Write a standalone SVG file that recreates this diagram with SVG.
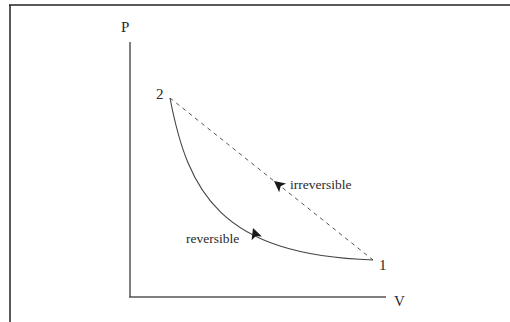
<svg xmlns="http://www.w3.org/2000/svg" width="510" height="322" viewBox="0 0 510 322">
<style>
.t{font-family:"Liberation Serif","Times New Roman",serif;fill:#2a2a2a;}
.lbl{font-size:13.5px;}
.ax{font-size:15px;}
.axis{stroke:#555;stroke-width:1.5;fill:none;}
.path{stroke:#444;stroke-width:1.1;fill:none;}
.dash{stroke:#555;stroke-width:1;fill:none;stroke-dasharray:4,4;}
</style>
<defs>
<path id="ah" d="M0,0 L-11,-5.5 L-8.5,0 L-11,5.5 Z" fill="#1a1a1a"/>
</defs>
<rect x="0" y="0" width="510" height="322" fill="#fff"/>
<g id="frame">
<line x1="9" y1="5" x2="510" y2="5" stroke="#222" stroke-width="1.5"/>
<line x1="10" y1="5" x2="10" y2="322" stroke="#222" stroke-width="1.5"/>
</g>
<g id="axes">
<line class="axis" x1="130" y1="42" x2="130" y2="297"/>
<line class="axis" x1="129" y1="297" x2="386" y2="297"/>
<text class="t ax" x="121" y="32">P</text>
<text class="t ax" x="394" y="306">V</text>
</g>
<g id="connectors">
<path class="dash" d="M170,98 L373,260"/>
<path class="path" d="M170,98 C188,192 220,255 373,260"/>
<use href="#ah" transform="translate(274,181) rotate(218.6)"/>
<use href="#ah" transform="translate(253,228) rotate(-110)"/>
</g>
<g id="node-2">
<text class="t ax" x="156" y="99">2</text>
</g>
<g id="node-1">
<text class="t ax" x="379" y="270">1</text>
</g>
<g id="label-irreversible">
<text class="t lbl" x="290" y="189">irreversible</text>
</g>
<g id="label-reversible">
<text class="t lbl" x="186" y="243">reversible</text>
</g>
</svg>
